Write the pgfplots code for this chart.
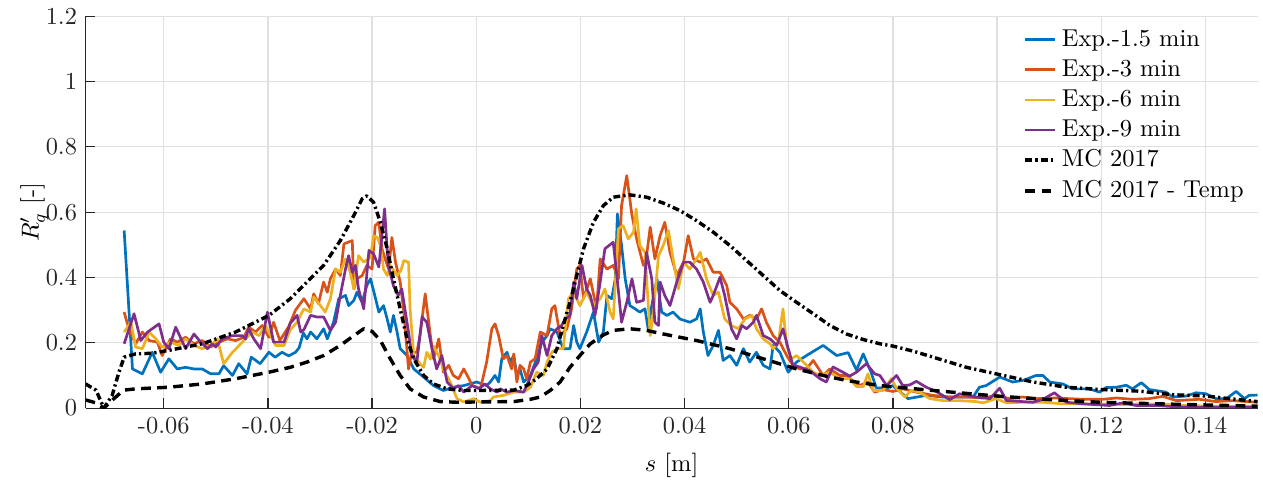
\documentclass[border=0pt]{standalone}
\usepackage{pgfplots}
\pgfplotsset{compat=1.18}
\definecolor{mblue}{rgb}{0,0.447,0.741}
\definecolor{morange}{rgb}{0.85,0.325,0.098}
\definecolor{myellow}{rgb}{0.929,0.694,0.125}
\definecolor{mpurple}{rgb}{0.494,0.184,0.556}
\definecolor{maxis}{rgb}{0.15,0.15,0.15}
\begin{document}
\begin{tikzpicture}
\begin{axis}[
  scale only axis,
  width=480pt, height=160.5pt,
  xmin=-0.075, xmax=0.15, ymin=0, ymax=1.2,
  xtick={-0.06,-0.04,-0.02,0,0.02,0.04,0.06,0.08,0.1,0.12,0.14},
  xticklabels={-0.06,-0.04,-0.02,0,0.02,0.04,0.06,0.08,0.1,0.12,0.14},
  ytick={0,0.2,0.4,0.6,0.8,1,1.2},
  yticklabels={0,0.2,0.4,0.6,0.8,1,1.2},
  ticklabel style={text=maxis},
  axis x line*=bottom, axis y line*=left,
  axis line style={maxis, line width=0.5pt},
  tick align=inside, major tick length=4pt,
  tick style={maxis, line width=0.5pt},
  grid=major,
  major grid style={line width=0.5pt, draw=black!12},
  xlabel={$s$ [m]}, ylabel={$R'_q$ [-]},
  xlabel style={yshift=-1pt},
  ylabel style={yshift=-7.8pt},
  legend style={draw=none, fill=none, at={(rel axis cs:0.999,0.992)}, anchor=north east, row sep=0pt, cells={anchor=west}},
  legend image code/.code={\draw[#1] (0cm,0cm) -- (0.43cm,0cm);},
  every axis plot/.append style={line join=round},
]
% Exp 1.5 min
\addplot[mblue, line width=1.1pt] coordinates {
(-0.0676,0.544)(-0.0660,0.120)(-0.0641,0.105)(-0.0622,0.171)(-0.0606,0.110)(-0.0590,0.151)(-0.0574,0.120)(-0.0558,0.125)(-0.0542,0.120)(-0.0526,0.120)(-0.0510,0.105)(-0.0494,0.105)(-0.0485,0.130)(-0.0468,0.100)(-0.0456,0.136)(-0.0440,0.105)(-0.0432,0.156)(-0.0424,0.147)(-0.0415,0.136)(-0.0398,0.171)(-0.0386,0.156)(-0.0373,0.171)(-0.0360,0.160)(-0.0347,0.171)(-0.0340,0.185)(-0.0332,0.230)(-0.0325,0.212)(-0.0318,0.233)(-0.0306,0.212)(-0.0293,0.243)(-0.0286,0.212)(-0.0274,0.263)(-0.0264,0.335)(-0.0251,0.345)(-0.0245,0.314)(-0.0235,0.330)(-0.0229,0.355)(-0.0219,0.324)(-0.0210,0.376)(-0.0203,0.396)(-0.0194,0.340)(-0.0187,0.294)(-0.0178,0.314)(-0.0171,0.273)(-0.0165,0.233)(-0.0159,0.284)(-0.0152,0.233)(-0.0146,0.182)(-0.0133,0.161)(-0.0120,0.120)(-0.0101,0.095)(-0.0082,0.069)(-0.0063,0.054)(-0.0044,0.064)(-0.0024,0.069)(0.0001,0.080)(0.0020,0.069)(0.0027,0.080)(0.0036,0.100)(0.0043,0.080)(0.0049,0.151)(0.0059,0.171)(0.0065,0.141)(0.0072,0.161)(0.0078,0.100)(0.0084,0.120)(0.0091,0.080)(0.0104,0.100)(0.0116,0.151)(0.0126,0.202)(0.0136,0.222)(0.0142,0.243)(0.0155,0.233)(0.0167,0.182)(0.0180,0.182)(0.0187,0.253)(0.0193,0.202)(0.0199,0.182)(0.0212,0.233)(0.0225,0.294)(0.0235,0.202)(0.0244,0.233)(0.0251,0.345)(0.0260,0.335)(0.0267,0.396)(0.0271,0.595)(0.0279,0.498)(0.0286,0.396)(0.0295,0.314)(0.0305,0.304)(0.0314,0.294)(0.0324,0.304)(0.0330,0.243)(0.0337,0.314)(0.0347,0.396)(0.0356,0.294)(0.0366,0.284)(0.0378,0.294)(0.0391,0.273)(0.0410,0.263)(0.0423,0.273)(0.0430,0.304)(0.0436,0.233)(0.0445,0.161)(0.0455,0.192)(0.0465,0.238)(0.0474,0.146)(0.0487,0.161)(0.0500,0.131)(0.0513,0.182)(0.0525,0.141)(0.0538,0.171)(0.0551,0.131)(0.0564,0.120)(0.0570,0.192)(0.0583,0.171)(0.0599,0.110)(0.0615,0.141)(0.0634,0.161)(0.0666,0.192)(0.0692,0.161)(0.0714,0.170)(0.0730,0.117)(0.0743,0.166)(0.0758,0.110)(0.0768,0.062)(0.0788,0.061)(0.0800,0.069)(0.0829,0.029)(0.0864,0.039)(0.0896,0.034)(0.0928,0.034)(0.0954,0.034)(0.0966,0.064)(0.0979,0.069)(0.1005,0.095)(0.1030,0.080)(0.1050,0.085)(0.1075,0.100)(0.1088,0.100)(0.1101,0.080)(0.1126,0.074)(0.1145,0.059)(0.1177,0.059)(0.1197,0.049)(0.1209,0.063)(0.1229,0.064)(0.1248,0.070)(0.1260,0.059)(0.1277,0.078)(0.1292,0.057)(0.1324,0.049)(0.1337,0.034)(0.1363,0.037)(0.1382,0.047)(0.1401,0.044)(0.1420,0.029)(0.1440,0.029)(0.1459,0.051)(0.1475,0.029)(0.1484,0.039)(0.1500,0.040)
};
\addlegendentry{Exp.-1.5 min}
% Exp 3 min
\addplot[morange, line width=1.1pt] coordinates {
(-0.0676,0.294)(-0.0667,0.243)(-0.0654,0.197)(-0.0641,0.233)(-0.0628,0.207)(-0.0612,0.202)(-0.0603,0.161)(-0.0587,0.212)(-0.0574,0.202)(-0.0558,0.217)(-0.0542,0.197)(-0.0526,0.207)(-0.0510,0.187)(-0.0494,0.202)(-0.0478,0.212)(-0.0462,0.207)(-0.0446,0.217)(-0.0437,0.248)(-0.0424,0.233)(-0.0411,0.253)(-0.0398,0.217)(-0.0389,0.263)(-0.0377,0.207)(-0.0360,0.250)(-0.0347,0.300)(-0.0331,0.335)(-0.0318,0.304)(-0.0312,0.350)(-0.0303,0.320)(-0.0293,0.386)(-0.0286,0.355)(-0.0280,0.396)(-0.0270,0.426)(-0.0261,0.406)(-0.0254,0.503)(-0.0238,0.513)(-0.0235,0.365)(-0.0229,0.396)(-0.0219,0.406)(-0.0210,0.437)(-0.0200,0.426)(-0.0194,0.559)(-0.0187,0.569)(-0.0181,0.488)(-0.0175,0.457)(-0.0168,0.426)(-0.0162,0.523)(-0.0155,0.447)(-0.0146,0.386)(-0.0139,0.294)(-0.0130,0.120)(-0.0124,0.171)(-0.0114,0.171)(-0.0108,0.222)(-0.0098,0.350)(-0.0088,0.222)(-0.0082,0.151)(-0.0072,0.212)(-0.0063,0.110)(-0.0053,0.131)(-0.0044,0.100)(-0.0034,0.090)(-0.0024,0.120)(-0.0014,0.090)(-0.0008,0.069)(0.0001,0.064)(0.0008,0.059)(0.0020,0.141)(0.0030,0.243)(0.0036,0.258)(0.0043,0.222)(0.0052,0.151)(0.0059,0.161)(0.0068,0.120)(0.0072,0.166)(0.0078,0.080)(0.0084,0.131)(0.0091,0.120)(0.0097,0.090)(0.0104,0.141)(0.0113,0.151)(0.0123,0.233)(0.0136,0.222)(0.0145,0.304)(0.0151,0.314)(0.0161,0.222)(0.0174,0.243)(0.0183,0.304)(0.0193,0.426)(0.0199,0.437)(0.0206,0.335)(0.0219,0.396)(0.0231,0.304)(0.0238,0.457)(0.0251,0.426)(0.0263,0.437)(0.0273,0.396)(0.0279,0.620)(0.0289,0.712)(0.0299,0.590)(0.0308,0.518)(0.0321,0.437)(0.0327,0.467)(0.0334,0.554)(0.0343,0.457)(0.0353,0.528)(0.0362,0.569)(0.0372,0.477)(0.0385,0.406)(0.0398,0.447)(0.0407,0.528)(0.0417,0.457)(0.0430,0.447)(0.0442,0.457)(0.0455,0.416)(0.0468,0.416)(0.0481,0.375)(0.0487,0.324)(0.0500,0.304)(0.0513,0.273)(0.0525,0.284)(0.0538,0.273)(0.0548,0.304)(0.0557,0.263)(0.0570,0.222)(0.0583,0.202)(0.0596,0.161)(0.0608,0.131)(0.0621,0.120)(0.0634,0.120)(0.0647,0.146)(0.0666,0.100)(0.0679,0.120)(0.0698,0.100)(0.0711,0.100)(0.0722,0.085)(0.0736,0.069)(0.0752,0.080)(0.0765,0.049)(0.0781,0.057)(0.0800,0.051)(0.0819,0.059)(0.0845,0.049)(0.0877,0.039)(0.0909,0.034)(0.0941,0.034)(0.0973,0.031)(0.0998,0.039)(0.1024,0.029)(0.1049,0.034)(0.1075,0.029)(0.1113,0.031)(0.1165,0.027)(0.1203,0.027)(0.1229,0.031)(0.1260,0.027)(0.1292,0.029)(0.1318,0.036)(0.1344,0.023)(0.1388,0.027)(0.1420,0.020)(0.1452,0.023)(0.1500,0.018)
};
\addlegendentry{Exp.-3 min}
% Exp 6 min
\addplot[myellow, line width=1.1pt] coordinates {
(-0.0676,0.233)(-0.0663,0.263)(-0.0654,0.187)(-0.0641,0.182)(-0.0628,0.233)(-0.0615,0.212)(-0.0603,0.187)(-0.0587,0.202)(-0.0571,0.192)(-0.0558,0.212)(-0.0542,0.192)(-0.0526,0.182)(-0.0510,0.192)(-0.0497,0.212)(-0.0485,0.136)(-0.0468,0.171)(-0.0449,0.202)(-0.0430,0.233)(-0.0417,0.222)(-0.0405,0.253)(-0.0385,0.192)(-0.0369,0.192)(-0.0357,0.240)(-0.0344,0.263)(-0.0331,0.304)(-0.0318,0.294)(-0.0312,0.340)(-0.0299,0.314)(-0.0290,0.294)(-0.0280,0.335)(-0.0270,0.426)(-0.0261,0.416)(-0.0251,0.457)(-0.0242,0.416)(-0.0235,0.365)(-0.0226,0.467)(-0.0216,0.447)(-0.0203,0.462)(-0.0197,0.528)(-0.0190,0.523)(-0.0184,0.498)(-0.0178,0.426)(-0.0171,0.406)(-0.0165,0.437)(-0.0152,0.406)(-0.0145,0.420)(-0.0139,0.452)(-0.0130,0.447)(-0.0127,0.304)(-0.0120,0.161)(-0.0111,0.141)(-0.0101,0.125)(-0.0095,0.171)(-0.0088,0.150)(-0.0082,0.190)(-0.0072,0.160)(-0.0063,0.120)(-0.0050,0.080)(-0.0037,0.029)(-0.0024,0.019)(-0.0005,0.029)(0.0008,0.018)(0.0027,0.023)(0.0033,0.034)(0.0052,0.039)(0.0072,0.049)(0.0091,0.049)(0.0104,0.064)(0.0116,0.110)(0.0129,0.100)(0.0136,0.141)(0.0145,0.171)(0.0155,0.182)(0.0167,0.182)(0.0177,0.335)(0.0187,0.355)(0.0199,0.314)(0.0212,0.355)(0.0225,0.314)(0.0238,0.335)(0.0247,0.365)(0.0257,0.294)(0.0263,0.273)(0.0273,0.549)(0.0282,0.559)(0.0292,0.518)(0.0302,0.539)(0.0307,0.610)(0.0314,0.498)(0.0324,0.477)(0.0334,0.222)(0.0340,0.294)(0.0350,0.467)(0.0359,0.498)(0.0369,0.544)(0.0378,0.457)(0.0388,0.365)(0.0398,0.447)(0.0410,0.426)(0.0423,0.457)(0.0430,0.477)(0.0442,0.396)(0.0455,0.345)(0.0465,0.355)(0.0477,0.273)(0.0490,0.253)(0.0503,0.243)(0.0516,0.273)(0.0529,0.284)(0.0538,0.243)(0.0551,0.212)(0.0564,0.197)(0.0570,0.182)(0.0580,0.202)(0.0589,0.304)(0.0596,0.192)(0.0605,0.151)(0.0615,0.161)(0.0628,0.141)(0.0647,0.110)(0.0660,0.100)(0.0679,0.110)(0.0698,0.090)(0.0717,0.090)(0.0730,0.066)(0.0743,0.066)(0.0752,0.105)(0.0762,0.054)(0.0781,0.054)(0.0797,0.090)(0.0807,0.061)(0.0823,0.034)(0.0835,0.054)(0.0851,0.049)(0.0871,0.029)(0.0896,0.023)(0.0928,0.023)(0.0960,0.020)(0.0973,0.016)(0.0998,0.029)(0.1018,0.016)(0.1049,0.018)(0.1088,0.018)(0.1126,0.013)(0.1165,0.013)(0.1203,0.013)(0.1241,0.011)(0.1280,0.013)(0.1318,0.013)(0.1356,0.008)(0.1420,0.006)(0.1500,0.006)
};
\addlegendentry{Exp.-6 min}
% Exp 9 min
\addplot[mpurple, line width=1.1pt] coordinates {
(-0.0676,0.197)(-0.0657,0.289)(-0.0644,0.207)(-0.0631,0.233)(-0.0609,0.258)(-0.0600,0.202)(-0.0590,0.182)(-0.0577,0.248)(-0.0558,0.182)(-0.0542,0.227)(-0.0529,0.202)(-0.0516,0.182)(-0.0507,0.197)(-0.0500,0.187)(-0.0488,0.212)(-0.0468,0.222)(-0.0449,0.222)(-0.0443,0.212)(-0.0437,0.243)(-0.0427,0.212)(-0.0414,0.182)(-0.0401,0.294)(-0.0389,0.202)(-0.0369,0.202)(-0.0357,0.260)(-0.0344,0.284)(-0.0337,0.233)(-0.0331,0.240)(-0.0318,0.284)(-0.0306,0.279)(-0.0293,0.279)(-0.0280,0.238)(-0.0270,0.263)(-0.0261,0.345)(-0.0251,0.426)(-0.0245,0.467)(-0.0238,0.416)(-0.0232,0.437)(-0.0226,0.365)(-0.0216,0.304)(-0.0206,0.483)(-0.0197,0.472)(-0.0187,0.432)(-0.0176,0.610)(-0.0169,0.437)(-0.0159,0.375)(-0.0150,0.345)(-0.0143,0.365)(-0.0137,0.304)(-0.0130,0.233)(-0.0124,0.161)(-0.0114,0.141)(-0.0104,0.279)(-0.0095,0.263)(-0.0085,0.182)(-0.0076,0.120)(-0.0066,0.161)(-0.0056,0.080)(-0.0044,0.060)(-0.0034,0.069)(-0.0024,0.049)(-0.0008,0.069)(0.0005,0.060)(0.0017,0.074)(0.0027,0.059)(0.0040,0.049)(0.0046,0.059)(0.0059,0.049)(0.0072,0.054)(0.0091,0.049)(0.0100,0.080)(0.0110,0.120)(0.0119,0.141)(0.0126,0.222)(0.0136,0.161)(0.0145,0.222)(0.0155,0.243)(0.0164,0.253)(0.0171,0.273)(0.0180,0.284)(0.0187,0.386)(0.0193,0.335)(0.0203,0.437)(0.0212,0.365)(0.0219,0.345)(0.0228,0.284)(0.0238,0.386)(0.0247,0.488)(0.0263,0.508)(0.0270,0.406)(0.0279,0.263)(0.0289,0.324)(0.0299,0.396)(0.0308,0.324)(0.0321,0.330)(0.0327,0.477)(0.0337,0.396)(0.0343,0.263)(0.0350,0.253)(0.0353,0.386)(0.0362,0.345)(0.0372,0.314)(0.0385,0.386)(0.0398,0.447)(0.0410,0.447)(0.0423,0.426)(0.0436,0.386)(0.0449,0.324)(0.0455,0.345)(0.0468,0.401)(0.0477,0.345)(0.0490,0.243)(0.0500,0.212)(0.0510,0.253)(0.0519,0.243)(0.0532,0.263)(0.0538,0.284)(0.0551,0.222)(0.0564,0.212)(0.0577,0.192)(0.0589,0.243)(0.0599,0.182)(0.0608,0.131)(0.0621,0.126)(0.0640,0.115)(0.0660,0.090)(0.0672,0.080)(0.0685,0.126)(0.0704,0.110)(0.0717,0.098)(0.0730,0.110)(0.0749,0.136)(0.0765,0.105)(0.0775,0.100)(0.0788,0.069)(0.0807,0.100)(0.0819,0.069)(0.0832,0.071)(0.0845,0.082)(0.0864,0.064)(0.0883,0.051)(0.0909,0.026)(0.0928,0.044)(0.0960,0.034)(0.0986,0.029)(0.1005,0.061)(0.1018,0.023)(0.1069,0.018)(0.1088,0.027)(0.1110,0.047)(0.1133,0.018)(0.1165,0.013)(0.1216,0.008)(0.1241,0.016)(0.1267,0.008)(0.1305,0.008)(0.1344,0.004)(0.1382,0.003)(0.1420,0.003)(0.1500,0.003)
};
\addlegendentry{Exp.-9 min}
% MC 2017
\addplot[black, line width=1.4pt, dash pattern=on 2.8pt off 1.3pt on 0.9pt off 1.3pt] coordinates {
(-0.0750,0.074)(-0.0730,0.055)(-0.0715,0.000)(-0.0699,0.039)(-0.0686,0.110)(-0.0676,0.156)(-0.0654,0.166)(-0.0622,0.168)(-0.0590,0.177)(-0.0526,0.197)(-0.0462,0.233)(-0.0398,0.284)(-0.0357,0.335)(-0.0325,0.386)(-0.0293,0.437)(-0.0261,0.513)(-0.0235,0.590)(-0.0219,0.641)(-0.0210,0.650)(-0.0197,0.630)(-0.0184,0.569)(-0.0171,0.488)(-0.0159,0.396)(-0.0146,0.304)(-0.0133,0.212)(-0.0120,0.151)(-0.0101,0.100)(-0.0082,0.074)(-0.0056,0.059)(-0.0024,0.054)(0.0008,0.054)(0.0072,0.055)(0.0097,0.069)(0.0116,0.090)(0.0136,0.120)(0.0155,0.182)(0.0167,0.253)(0.0180,0.324)(0.0193,0.406)(0.0206,0.488)(0.0225,0.569)(0.0244,0.620)(0.0263,0.646)(0.0295,0.653)(0.0327,0.646)(0.0359,0.628)(0.0391,0.605)(0.0423,0.574)(0.0455,0.539)(0.0487,0.498)(0.0519,0.452)(0.0551,0.406)(0.0583,0.360)(0.0615,0.324)(0.0647,0.289)(0.0679,0.253)(0.0711,0.227)(0.0743,0.210)(0.0775,0.197)(0.0800,0.190)(0.0840,0.174)(0.0877,0.156)(0.0941,0.125)(0.0998,0.105)(0.1069,0.080)(0.1133,0.064)(0.1197,0.057)(0.1273,0.052)(0.1337,0.041)(0.1401,0.037)(0.1440,0.030)(0.1500,0.020)
};
\addlegendentry{MC 2017}
% MC 2017 - Temp
\addplot[black, line width=1.4pt, dash pattern=on 4pt off 2.6pt] coordinates {
(-0.0750,0.025)(-0.0730,0.016)(-0.0715,0.000)(-0.0695,0.030)(-0.0677,0.055)(-0.0654,0.059)(-0.0590,0.064)(-0.0526,0.074)(-0.0462,0.090)(-0.0398,0.110)(-0.0357,0.125)(-0.0325,0.141)(-0.0293,0.161)(-0.0261,0.192)(-0.0235,0.222)(-0.0216,0.243)(-0.0200,0.235)(-0.0184,0.207)(-0.0165,0.151)(-0.0146,0.100)(-0.0127,0.059)(-0.0101,0.034)(-0.0069,0.020)(-0.0037,0.018)(0.0008,0.019)(0.0072,0.020)(0.0104,0.027)(0.0123,0.034)(0.0142,0.054)(0.0161,0.080)(0.0180,0.125)(0.0199,0.161)(0.0219,0.197)(0.0244,0.224)(0.0263,0.238)(0.0295,0.243)(0.0327,0.238)(0.0359,0.227)(0.0423,0.207)(0.0487,0.182)(0.0551,0.151)(0.0615,0.120)(0.0679,0.095)(0.0717,0.083)(0.0775,0.069)(0.0877,0.054)(0.0999,0.037)(0.1101,0.026)(0.1197,0.018)(0.1337,0.012)(0.1500,0.006)
};
\addlegendentry{MC 2017 - Temp}
\end{axis}
\path (current bounding box.north east) ++(2pt,0);
\path (current bounding box.west) ++(-5pt,0);
\end{tikzpicture}
\end{document}
